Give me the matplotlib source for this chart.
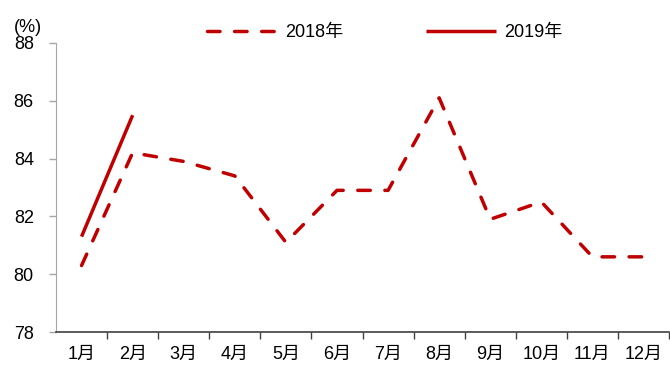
import matplotlib
matplotlib.use("Agg")
import matplotlib.pyplot as plt

plt.rcParams['font.family'] = ['Liberation Sans', 'Noto Sans CJK SC']

months = ['1月', '2月', '3月', '4月', '5月', '6月', '7月', '8月', '9月', '10月', '11月', '12月']
rate_2018 = [80.3, 84.2, 83.9, 83.4, 81.1, 82.9, 82.9, 86.1, 81.9, 82.5, 80.6, 80.6]
rate_2019 = [81.3, 85.5]

red = '#C00000'
fig = plt.figure(figsize=(6.7, 3.65), dpi=100)
ax = fig.add_axes([0.0836, 0.0904, 0.915, 0.792])

x = range(len(months))
ax.plot(x, rate_2018, color=red, lw=2.5, dashes=(3.6, 4.2),
        dash_capstyle='round', label='2018年')
ax.plot(range(len(rate_2019)), rate_2019, color=red, lw=2.5,
        solid_capstyle='butt', label='2019年')

ax.set_xlim(-0.5, len(months) - 0.5)
ax.set_ylim(78, 88)
ax.set_yticks(range(78, 89, 2))
# category boundaries get the ticks, month names sit between them
ax.set_xticks([i + 0.5 for i in range(len(months))])
ax.set_xticklabels([])
ax.set_xticks(list(x), minor=True)
ax.set_xticklabels(months, minor=True)
ax.tick_params(axis='x', which='major', length=5, color='#404040', width=1)
ax.tick_params(axis='x', which='minor', length=0, pad=10, labelsize=13)
ax.tick_params(axis='y', length=5, color='#A6A6A6', width=1, labelsize=13, pad=11)

for side in ('top', 'right'):
    ax.spines[side].set_visible(False)
ax.spines['left'].set_color('#A6A6A6')
ax.spines['bottom'].set_color('#404040')
ax.spines['bottom'].set_linewidth(1.2)

fig.text(14 / 670, 1 - 36 / 365, '(%)', fontsize=13, ha='left', va='bottom')

fig.legend(*ax.get_legend_handles_labels(), loc='center',
           bbox_to_anchor=(0.574, 0.91), ncol=2, frameon=False, fontsize=13,
           handlelength=3.9, columnspacing=4.6, handletextpad=0.4)

fig.savefig('out.png', dpi=100)
